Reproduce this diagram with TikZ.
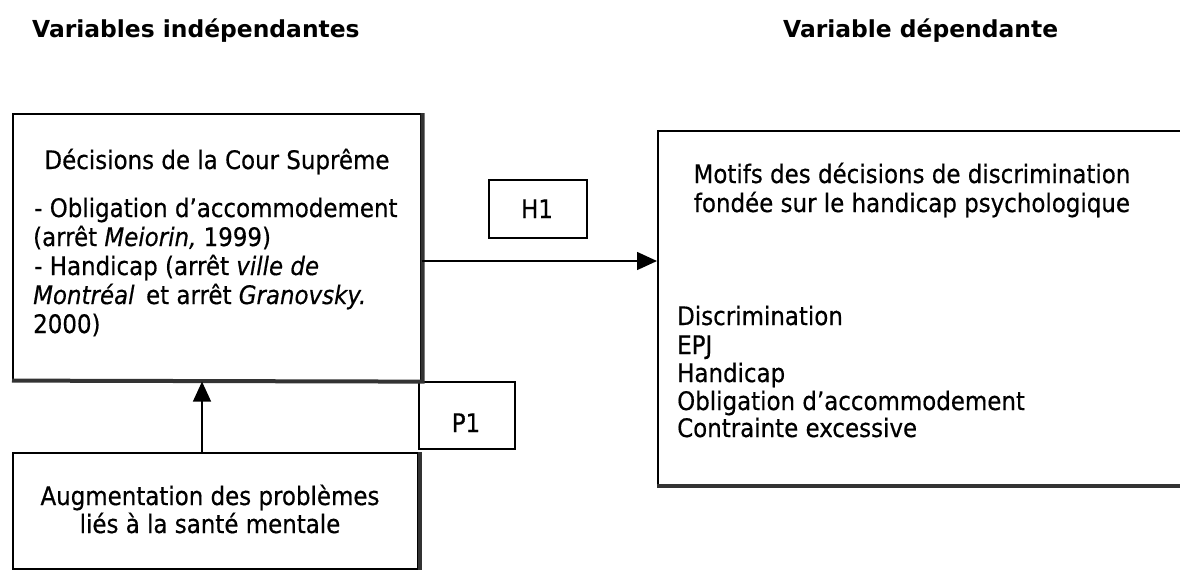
\documentclass[tikz,border=0pt]{standalone}
\usepackage{fontspec}
\setmainfont{DejaVu Sans Condensed}[ItalicFont={DejaVu Sans Condensed Oblique},BoldFont={DejaVu Sans Condensed Bold},FakeBold=0.5]
\newfontfamily\titlefont{DejaVu Sans}[BoldFont={DejaVu Sans Bold}]
\usetikzlibrary{arrows.meta}
\newcommand\bodysz{\fontsize{25.5}{30}\selectfont}
\begin{document}
\begin{tikzpicture}[x=1pt,y=-1pt,
  frame/.style={draw=black,line width=1.6pt,inner sep=0pt,anchor=north west},
  shade/.style={draw=black!80,line width=4pt},
  txt/.style={inner sep=0pt,font=\bodysz},
  ttl/.style={inner sep=0pt,anchor=base west,font=\titlefont\bfseries\fontsize{23.4}{28}\selectfont},
  arr/.style={line width=1.5pt,-{Triangle[length=20pt,width=18pt]}}]
\useasboundingbox (0,0) rectangle (1180,571);
% titles
\node[ttl] (t1) at (32,37) {Variables indépendantes};
\node[ttl] (t2) at (783,37) {Variable dépendante};
% boxes
\node[frame,minimum width=408pt,minimum height=267pt] (b1) at (12,113) {};
\node[frame,minimum width=405pt,minimum height=116pt] (b2) at (12,452) {};
\node[frame,minimum width=96pt,minimum height=67pt] (p1) at (418,381) {};
\node[frame,minimum width=98pt,minimum height=58pt] (h1) at (488,179) {};
\node[frame,minimum width=540pt,minimum height=355pt] (b3) at (657,130) {};
% shadows
\draw[shade] ([xshift=1pt]b1.north east) -- ([xshift=1pt]b1.south east) -- ([yshift=1pt]b1.south west);
\draw[shade] ([xshift=1pt]b2.north east) -- ([xshift=1pt]b2.south east);
\draw[shade] ([yshift=1pt]b3.south west) -- ([yshift=1pt]b3.south east);
% texts box 1
\node[txt,anchor=base] (b1t) at (217,169) {Décisions de la Cour Suprême};
\node[txt,anchor=base west] (b1a) at (34,217) {- Obligation d’accommodement};
\node[txt,anchor=base west] (b1b) at (33,246) {(arrêt \textit{Meiorin,} 1999)};
\node[txt,anchor=base west] (b1c) at (34,275) {- Handicap (arrêt \textit{ville de}};
\node[txt,anchor=base west] (b1d) at (33,304) {\textit{Montréal}\, et arrêt \textit{Granovsky.}};
\node[txt,anchor=base west] (b1e) at (33,333) {2000)};
% box 2
\node[txt,anchor=base] (b2a) at (210,505) {Augmentation des problèmes};
\node[txt,anchor=base] (b2b) at (210,533) {liés à la santé mentale};
% P1, H1
\node[txt,anchor=base] (p1t) at (466,432) {P1};
\node[txt,anchor=base] (h1t) at (537,218) {H1};
% box 3
\node[txt,anchor=base] (b3a) at (912,183) {Motifs des décisions de discrimination};
\node[txt,anchor=base] (b3b) at (912,212) {fondée sur le handicap psychologique};
\node[txt,anchor=base west] (l1) at (677,325) {Discrimination};
\node[txt,anchor=base west] (l2) at (677,354) {EPJ};
\node[txt,anchor=base west] (l3) at (677,382) {Handicap};
\node[txt,anchor=base west] (l4) at (677,410) {Obligation d’accommodement};
\node[txt,anchor=base west] (l5) at (677,437) {Contrainte excessive};
% arrows
\draw[arr] (b1.east |- 0,261) -- (b3.west |- 0,261);
\draw[arr] (b2.north -| 202,0) -- (b1.south -| 202,0);
\end{tikzpicture}
\end{document}
